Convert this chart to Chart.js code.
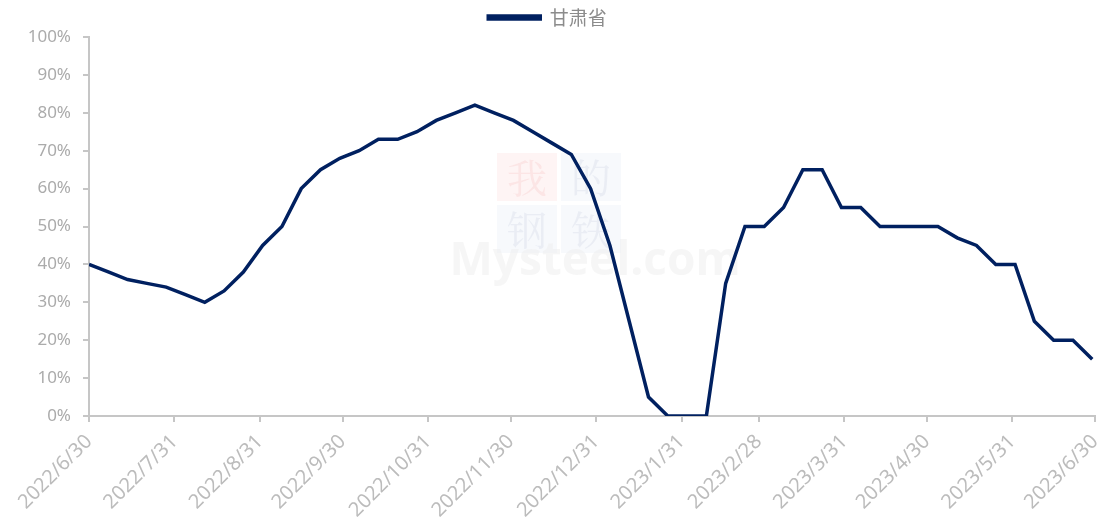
<!DOCTYPE html>
<html lang="zh-CN">
<head>
<meta charset="UTF-8">
<title>甘肃省</title>
<script src="https://cdn.jsdelivr.net/npm/chart.js"></script>
<style>
  html, body { margin: 0; padding: 0; background: #fff; }
  #wrap { width: 1105px; height: 530px; }
</style>
</head>
<body>
<div id="wrap"><canvas id="chart"></canvas></div>
<script>
// days since 2022/6/30, one reading per week
const weekDays = [0, 7, 14, 21, 28, 35, 42, 49, 56, 63, 70, 77, 84, 91, 98, 105, 112, 119, 126,
  133, 140, 147, 154, 161, 168, 175, 182, 189, 196, 203, 210, 217, 224, 231, 238, 245, 252,
  259, 266, 273, 280, 287, 294, 301, 308, 315, 322, 329, 336, 343, 350, 357, 364];
const gansu = [40, 38, 36, 35, 34, 32, 30, 33, 38, 45, 50, 60, 65, 68, 70, 73, 73, 75, 78,
  80, 82, 80, 78, 75, 72, 69, 60, 45, 25, 5, 0, 0, 0, 35, 50, 50, 55,
  65, 65, 55, 55, 50, 50, 50, 50, 47, 45, 40, 40, 25, 20, 20, 15];

// month-end ticks on the x axis
const tickDays = [0, 31, 62, 92, 123, 153, 184, 215, 243, 274, 304, 335, 365];
const tickLabels = ['2022/6/30', '2022/7/31', '2022/8/31', '2022/9/30', '2022/10/31', '2022/11/30',
  '2022/12/31', '2023/1/31', '2023/2/28', '2023/3/31', '2023/4/30', '2023/5/31', '2023/6/30'];

const seriesName = '甘肃省';
const axisColor = '#c6c6c6';

const watermark = {
  id: 'watermark',
  beforeDatasetsDraw(chart) {
    const ctx = chart.ctx;
    ctx.save();
    ctx.fillStyle = 'rgba(230, 60, 60, 0.06)';
    ctx.fillRect(497, 153, 60, 48);
    ctx.fillStyle = 'rgba(60, 90, 180, 0.04)';
    ctx.fillRect(561, 153, 60, 48);
    ctx.fillRect(497, 205, 60, 48);
    ctx.fillRect(561, 205, 60, 48);
    ctx.font = '40px "Noto Serif CJK SC", "Noto Sans CJK SC"';
    ctx.textAlign = 'center';
    ctx.textBaseline = 'middle';
    ctx.fillStyle = 'rgba(245, 200, 200, 0.35)';
    ctx.fillText('我', 527, 178);
    ctx.fillStyle = 'rgba(210, 215, 230, 0.35)';
    ctx.fillText('的', 591, 178);
    ctx.fillText('钢', 527, 230);
    ctx.fillText('铁', 591, 230);
    ctx.font = 'bold 46px "Open Sans"';
    ctx.fillStyle = 'rgba(238, 238, 238, 0.55)';
    ctx.fillText('Mysteel.com', 595, 262);
    ctx.restore();
  }
};

new Chart(document.getElementById('chart'), {
  type: 'line',
  data: {
    datasets: [{
      label: seriesName,
      data: weekDays.map((d, i) => ({ x: d, y: gansu[i] })),
      borderColor: '#002060',
      backgroundColor: '#002060',
      borderWidth: 3.5,
      pointRadius: 0,
      tension: 0,
      fill: false
    }]
  },
  options: {
    responsive: true,
    maintainAspectRatio: false,
    animation: false,
    layout: { padding: { top: 2, right: 10, left: 0, bottom: 0 } },
    plugins: {
      legend: {
        display: true,
        position: 'top',
        labels: {
          boxWidth: 52,
          boxHeight: 3,
          color: '#8c8c8c',
          font: { family: '"Noto Sans CJK SC"', size: 19 },
          padding: 6
        }
      },
      tooltip: { enabled: false }
    },
    scales: {
      x: {
        type: 'linear',
        min: 0,
        max: 365,
        afterBuildTicks(scale) {
          scale.ticks = tickDays.map(v => ({ value: v }));
        },
        afterFit(scale) {
          scale.height = 114;
          scale.paddingLeft = 0;
          scale.paddingRight = 0;
        },
        grid: { drawOnChartArea: false, drawTicks: true, tickLength: 6, color: axisColor, lineWidth: 2 },
        border: { color: axisColor, width: 2 },
        ticks: {
          autoSkip: false,
          minRotation: 45,
          maxRotation: 45,
          color: '#bcbcbc',
          font: { family: '"Noto Sans", sans-serif', size: 20 },
          padding: 8,
          callback(value) {
            const i = tickDays.indexOf(value);
            return i >= 0 ? tickLabels[i] : '';
          }
        }
      },
      y: {
        min: 0,
        max: 100,
        afterFit(scale) { scale.width = 89; },
        grid: { drawOnChartArea: false, drawTicks: true, tickLength: 6, color: axisColor, lineWidth: 2 },
        border: { color: axisColor, width: 2 },
        ticks: {
          stepSize: 10,
          color: '#ababab',
          font: { family: '"Noto Sans", sans-serif', size: 17 },
          padding: 12,
          callback: v => v + '%'
        }
      }
    }
  },
  plugins: [watermark]
});
</script>
</body>
</html>
